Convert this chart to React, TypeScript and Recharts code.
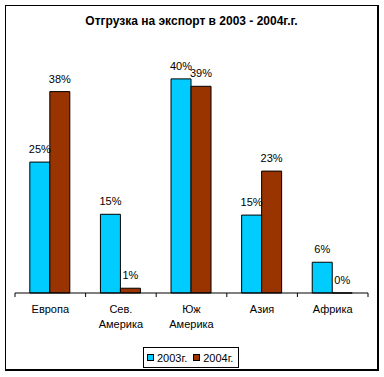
import React from 'react';
import { BarChart, Bar, XAxis, YAxis, LabelList, Legend } from 'recharts';

const categories = ['Европа', 'Сев. Америка', 'Юж Америка', 'Азия', 'Африка'];
const values2003 = [24.7, 14.85, 40.4, 14.7, 5.8];
const values2004 = [38, 0.9, 39, 23, 0];
const seriesNames = ['2003г.', '2004г.'];
const seriesColors = ['#00CCFF', '#993300'];
const title = 'Отгрузка на экспорт в 2003 - 2004г.г.';

const data = categories.map((c, i) => ({ name: c, y2003: values2003[i], y2004: values2004[i] }));

const FONT = 'Arial, "Liberation Sans", sans-serif';

const CatTick = (props: any) => {
  const { x, y, payload, index, visibleTicksCount } = props;
  const off = payload && payload.offset != null ? payload.offset : 35.3;
  const lines = String(payload.value).split(' ');
  const count = visibleTicksCount ?? categories.length;
  return (
    <g>
      <line x1={x - off} x2={x - off} y1={y - 4} y2={y} stroke="#000" strokeWidth={1} />
      {index === count - 1 && (
        <line x1={x + off} x2={x + off} y1={y - 4} y2={y} stroke="#000" strokeWidth={1} />
      )}
      <text x={x} y={y} textAnchor="middle" fontSize={11} fontFamily={FONT} fill="#000">
        {lines.map((l, i) => (
          <tspan key={i} x={x} dy={i === 0 ? 16 : 15}>{l}</tspan>
        ))}
      </text>
    </g>
  );
};

const LegendContent = () => (
  <div
    style={{
      boxSizing: 'border-box',
      width: 96,
      height: 21,
      border: '1px solid #000',
      background: '#fff',
      display: 'flex',
      alignItems: 'center',
      fontFamily: FONT,
      fontSize: 11,
      color: '#000',
      paddingLeft: 3,
    }}
  >
    {seriesNames.map((n, i) => (
      <div key={n} style={{ display: 'flex', alignItems: 'center', marginRight: i === 0 ? 6 : 0 }}>
        <span
          style={{
            display: 'inline-block',
            boxSizing: 'border-box',
            width: 7,
            height: 7,
            border: '1px solid #000',
            background: seriesColors[i],
            marginRight: 3,
          }}
        />
        <span style={{ lineHeight: '12px' }}>{n}</span>
      </div>
    ))}
  </div>
);

const fmt = (v: any) => `${Math.round(Number(v))}%`;

export default function App() {
  return (
    <div style={{ position: 'fixed', left: 0, top: 0, width: 384, height: 377, background: '#fff', overflow: 'hidden' }}>
      <div
        style={{
          position: 'absolute',
          left: 5,
          top: 5,
          width: 374,
          height: 366,
          boxSizing: 'border-box',
          border: '1px solid #000',
          borderRightWidth: 2,
          borderBottomWidth: 2,
        }}
      />
      <div
        style={{
          position: 'absolute',
          left: 0,
          top: 13,
          width: 383,
          textAlign: 'center',
          fontFamily: FONT,
          fontSize: 12,
          fontWeight: 'bold',
          color: '#000',
          lineHeight: '17px',
        }}
      >
        {title}
      </div>
      <div style={{ position: 'absolute', left: 0, top: 0 }}>
        <BarChart
          width={384}
          height={377}
          data={data}
          margin={{ top: 28, right: 16, left: 15, bottom: 44 }}
          barCategoryGap="21%"
          barGap={0}
        >
          <XAxis
            dataKey="name"
            axisLine={{ stroke: '#000', strokeWidth: 1 }}
            tickLine={false}
            tickSize={4}
            tickMargin={0}
            interval={0}
            height={40}
            tick={<CatTick />}
          />
          <YAxis hide domain={[0, 50]} />
          <Legend
            layout="vertical"
            verticalAlign="middle"
            align="center"
            content={<LegendContent />}
            wrapperStyle={{ left: 143, top: 347, width: 96, height: 21, right: 'auto', bottom: 'auto' }}
          />
          <Bar dataKey="y2003" name={seriesNames[0]} fill={seriesColors[0]} stroke="#000" strokeWidth={1} minPointSize={0.01} isAnimationActive={false}>
            <LabelList dataKey="y2003" position="top" offset={9} fontSize={11} fontFamily={FONT} fill="#000" formatter={fmt} />
          </Bar>
          <Bar dataKey="y2004" name={seriesNames[1]} fill={seriesColors[1]} stroke="#000" strokeWidth={1} minPointSize={0.01} isAnimationActive={false}>
            <LabelList dataKey="y2004" position="top" offset={9} fontSize={11} fontFamily={FONT} fill="#000" formatter={fmt} />
          </Bar>
        </BarChart>
      </div>
    </div>
  );
}
